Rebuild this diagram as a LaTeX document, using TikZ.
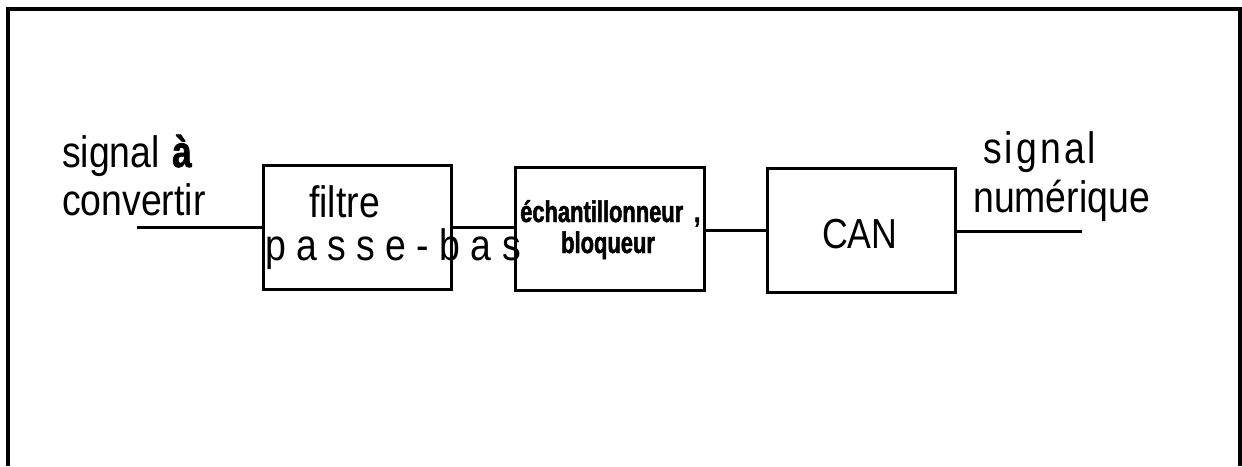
\documentclass[tikz,border=0pt]{standalone}
\usepackage{fontspec}
\setmainfont{Liberation Sans}
\newfontfamily\narrowfont[FakeStretch=0.85]{Liberation Sans}
\newfontfamily\narrowbold[FakeStretch=0.8,FakeBold=1.6]{Liberation Sans Bold}
\newfontfamily\tightbold[FakeStretch=0.73,FakeBold=1.6]{Liberation Sans Bold}
\newfontfamily\widefont[FakeStretch=0.85,LetterSpace=7]{Liberation Sans}
\begin{document}
\begin{tikzpicture}[x=1pt,y=-1pt,
  block/.style={draw,line width=3pt,minimum width=188pt,minimum height=124pt,inner sep=0pt,anchor=center},
  wire/.style={line width=3pt},
  frameline/.style={line width=4pt},
  lbl/.style={anchor=base west,inner sep=0pt,font=\narrowfont\fontsize{44}{52}\selectfont},
  smalllbl/.style={anchor=base west,inner sep=0pt,font=\tightbold\fontsize{30}{34}\selectfont}]
  \useasboundingbox (0,0) rectangle (1242,466);
  % open outer frame
  \draw[frameline] (8,466) -- (8,9) -- (1240,9) -- (1240,466);
  % blocks
  \node[block] (filt) at (357,227) {};
  \node[block,minimum height=123pt,minimum width=189pt] (ech) at (609.5,228.5) {};
  \node[block] (can) at (861,230) {};
  % chain wires
  \coordinate (in) at (137,227);
  \coordinate (out) at (1082,231);
  \draw[wire] (in) -- (filt.west);
  \draw[wire] (filt.east) -- (ech.west |- filt.east);
  \draw[wire] (ech.east |- can.west) -- (can.west);
  \draw[wire] (can.east |- out) -- (out);
  % labels
  \node[lbl] (sigin) at (62,167) {signal};
  \node[lbl,font=\narrowbold\fontsize{44}{52}\selectfont] (sigA) at (172,167) {à};
  \node[lbl] (conv) at (62,215) {convertir};
  \node[lbl] (filtre) at (309,217) {filtre};
  \node[lbl] (passe) at (265,260) {p a s s e - b a s};
  \node[smalllbl] (echt) at (520,222) {échantillonneur};
  \node[smalllbl] (comma) at (694,222) {,};
  \node[smalllbl] (bloq) at (561,253) {bloqueur};
  \node[lbl,font=\narrowfont\fontsize{42}{50}\selectfont] (cant) at (822,248) {CAN};
  \node[lbl,font=\widefont\fontsize{44}{52}\selectfont] (sigout) at (983,163) {signal};
  \node[lbl] (num) at (973,212) {numérique};
\end{tikzpicture}
\end{document}
